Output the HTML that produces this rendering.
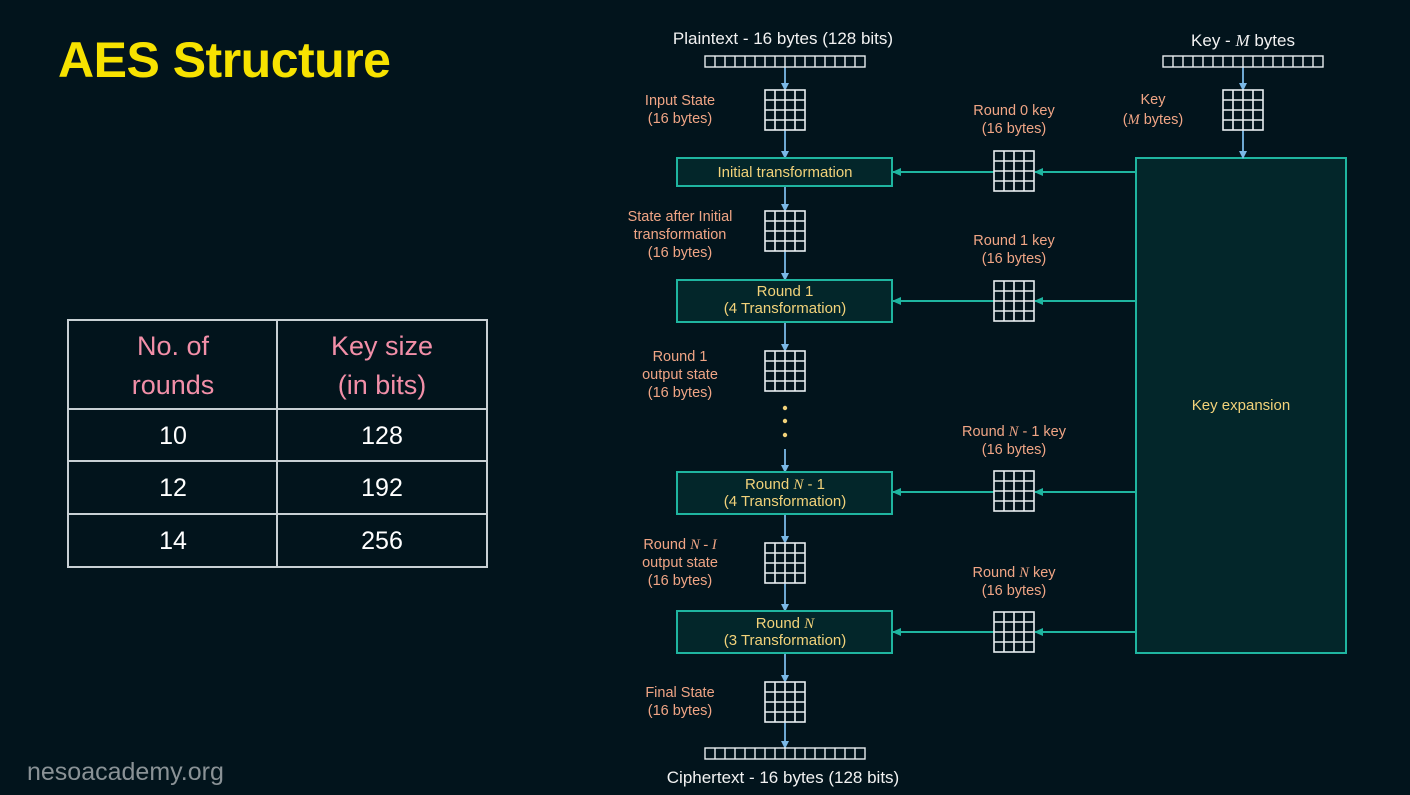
<!DOCTYPE html>
<html><head><meta charset="utf-8"><style>
html,body{margin:0;padding:0;background:#02141c;}
svg{display:block}
.lbl{font-family:"Liberation Sans",sans-serif;font-size:14.5px;fill:#f0a585;text-anchor:middle}
.bx{font-family:"Liberation Sans",sans-serif;font-size:15px;fill:#f2d27a;text-anchor:middle}
.wh{font-family:"Liberation Sans",sans-serif;font-size:17px;fill:#f2f2f2;text-anchor:middle}
.it{font-family:"Liberation Serif",serif;font-style:italic}
.th{font-family:"Liberation Sans",sans-serif;font-size:27px;fill:#f28fa8;text-anchor:middle}
.td{font-family:"Liberation Sans",sans-serif;font-size:25px;fill:#ffffff;text-anchor:middle}
</style></head><body>
<svg width="1410" height="795" viewBox="0 0 1410 795" xmlns="http://www.w3.org/2000/svg">
<defs>
<g id="grid" fill="none" stroke="#e8eef0" stroke-width="1.6">
<rect x="0" y="0" width="40" height="40"/>
<path d="M10 0V40M20 0V40M30 0V40M0 10H40M0 20H40M0 30H40"/>
</g>
<g id="bar" fill="none" stroke="#e8eef0" stroke-width="1.4">
<rect x="0" y="0" width="160" height="11"/>
<path d="M10 0V11M20 0V11M30 0V11M40 0V11M50 0V11M60 0V11M70 0V11M80 0V11M90 0V11M100 0V11M110 0V11M120 0V11M130 0V11M140 0V11M150 0V11"/>
</g>
<marker id="ab" markerWidth="8" markerHeight="8" refX="7" refY="4" orient="auto" markerUnits="userSpaceOnUse"><path d="M0 0L8 4L0 8z" fill="#7ab8e6"/></marker>
<marker id="at" markerWidth="9" markerHeight="8" refX="8" refY="4" orient="auto" markerUnits="userSpaceOnUse"><path d="M0 0L9 4L0 8z" fill="#1fb5a0"/></marker>
</defs>
<rect width="1410" height="795" fill="#02141c"/>
<text x="58" y="77" font-family="'Comic Sans MS','Liberation Sans',sans-serif" font-size="50" fill="#f7e200" font-weight="bold" letter-spacing="-0.5">AES Structure</text>
<text x="27" y="780" font-family="'Liberation Sans',sans-serif" font-size="25" fill="#8a9296">nesoacademy.org</text>

<g fill="none" stroke="#c8d0d4" stroke-width="2">
<rect x="68" y="320" width="419" height="247"/>
<path d="M277 320V567M68 409H487M68 461H487M68 514H487"/>
</g>
<text class="th" x="173" y="355">No. of</text>
<text class="th" x="173" y="394">rounds</text>
<text class="th" x="382" y="355">Key size</text>
<text class="th" x="382" y="394">(in bits)</text>
<text class="td" x="173" y="444">10</text><text class="td" x="382" y="444">128</text>
<text class="td" x="173" y="496">12</text><text class="td" x="382" y="496">192</text>
<text class="td" x="173" y="549">14</text><text class="td" x="382" y="549">256</text>

<rect x="1136" y="158" width="210" height="495" fill="#03262a" stroke="#1fb5a0" stroke-width="2"/>
<text class="bx" x="1241" y="410">Key expansion</text>

<g stroke="#7ab8e6" stroke-width="1.8" fill="none">
<line x1="785" y1="67" x2="785" y2="90" marker-end="url(#ab)"/>
<line x1="785" y1="130" x2="785" y2="158" marker-end="url(#ab)"/>
<line x1="785" y1="186" x2="785" y2="211" marker-end="url(#ab)"/>
<line x1="785" y1="251" x2="785" y2="280" marker-end="url(#ab)"/>
<line x1="785" y1="322" x2="785" y2="351" marker-end="url(#ab)"/>
<line x1="785" y1="449" x2="785" y2="472" marker-end="url(#ab)"/>
<line x1="785" y1="514" x2="785" y2="543" marker-end="url(#ab)"/>
<line x1="785" y1="583" x2="785" y2="611" marker-end="url(#ab)"/>
<line x1="785" y1="653" x2="785" y2="682" marker-end="url(#ab)"/>
<line x1="785" y1="722" x2="785" y2="748" marker-end="url(#ab)"/>
<line x1="1243" y1="67" x2="1243" y2="90" marker-end="url(#ab)"/>
<line x1="1243" y1="130" x2="1243" y2="158" marker-end="url(#ab)"/>
</g>
<g fill="#f2d27a"><circle cx="785" cy="408" r="2.2"/><circle cx="785" cy="421" r="2.2"/><circle cx="785" cy="435" r="2.2"/></g>

<g stroke="#1fb5a0" stroke-width="2" fill="none">
<line x1="1136" y1="172" x2="1035" y2="172" marker-end="url(#at)"/>
<line x1="994" y1="172" x2="893" y2="172" marker-end="url(#at)"/>
<line x1="1136" y1="301" x2="1035" y2="301" marker-end="url(#at)"/>
<line x1="994" y1="301" x2="893" y2="301" marker-end="url(#at)"/>
<line x1="1136" y1="492" x2="1035" y2="492" marker-end="url(#at)"/>
<line x1="994" y1="492" x2="893" y2="492" marker-end="url(#at)"/>
<line x1="1136" y1="632" x2="1035" y2="632" marker-end="url(#at)"/>
<line x1="994" y1="632" x2="893" y2="632" marker-end="url(#at)"/>
</g>

<g fill="#03262a" stroke="#1fb5a0" stroke-width="2">
<rect x="677" y="158" width="215" height="28"/>
<rect x="677" y="280" width="215" height="42"/>
<rect x="677" y="472" width="215" height="42"/>
<rect x="677" y="611" width="215" height="42"/>
</g>
<text class="bx" x="785" y="177">Initial transformation</text>
<text class="bx" x="785" y="296">Round 1</text>
<text class="bx" x="785" y="313">(4 Transformation)</text>
<text class="bx" x="785" y="489">Round <tspan class="it">N</tspan> - 1</text>
<text class="bx" x="785" y="506">(4 Transformation)</text>
<text class="bx" x="785" y="628">Round <tspan class="it">N</tspan></text>
<text class="bx" x="785" y="645">(3 Transformation)</text>

<use href="#bar" x="705" y="56"/>
<use href="#bar" x="705" y="748"/>
<use href="#bar" x="1163" y="56"/>
<use href="#grid" x="765" y="90"/>
<use href="#grid" x="765" y="211"/>
<use href="#grid" x="765" y="351"/>
<use href="#grid" x="765" y="543"/>
<use href="#grid" x="765" y="682"/>
<use href="#grid" x="1223" y="90"/>
<use href="#grid" x="994" y="151"/>
<use href="#grid" x="994" y="281"/>
<use href="#grid" x="994" y="471"/>
<use href="#grid" x="994" y="612"/>

<text class="wh" x="783" y="44">Plaintext - 16 bytes (128 bits)</text>
<text class="wh" x="783" y="783">Ciphertext - 16 bytes (128 bits)</text>
<text class="wh" x="1243" y="46">Key - <tspan class="it">M</tspan> bytes</text>

<text class="lbl" x="680" y="105">Input State</text>
<text class="lbl" x="680" y="123">(16 bytes)</text>
<text class="lbl" x="680" y="221">State after Initial</text>
<text class="lbl" x="680" y="239">transformation</text>
<text class="lbl" x="680" y="257">(16 bytes)</text>
<text class="lbl" x="680" y="361">Round 1</text>
<text class="lbl" x="680" y="379">output state</text>
<text class="lbl" x="680" y="397">(16 bytes)</text>
<text class="lbl" x="680" y="549">Round <tspan class="it">N - I</tspan></text>
<text class="lbl" x="680" y="567">output state</text>
<text class="lbl" x="680" y="585">(16 bytes)</text>
<text class="lbl" x="680" y="697">Final State</text>
<text class="lbl" x="680" y="715">(16 bytes)</text>
<text class="lbl" x="1014" y="115">Round 0 key</text>
<text class="lbl" x="1014" y="133">(16 bytes)</text>
<text class="lbl" x="1014" y="245">Round 1 key</text>
<text class="lbl" x="1014" y="263">(16 bytes)</text>
<text class="lbl" x="1014" y="436">Round <tspan class="it">N</tspan> - 1 key</text>
<text class="lbl" x="1014" y="454">(16 bytes)</text>
<text class="lbl" x="1014" y="577">Round <tspan class="it">N</tspan> key</text>
<text class="lbl" x="1014" y="595">(16 bytes)</text>
<text class="lbl" x="1153" y="104">Key</text>
<text class="lbl" x="1153" y="124">(<tspan class="it">M</tspan> bytes)</text>
</svg>
</body></html>
